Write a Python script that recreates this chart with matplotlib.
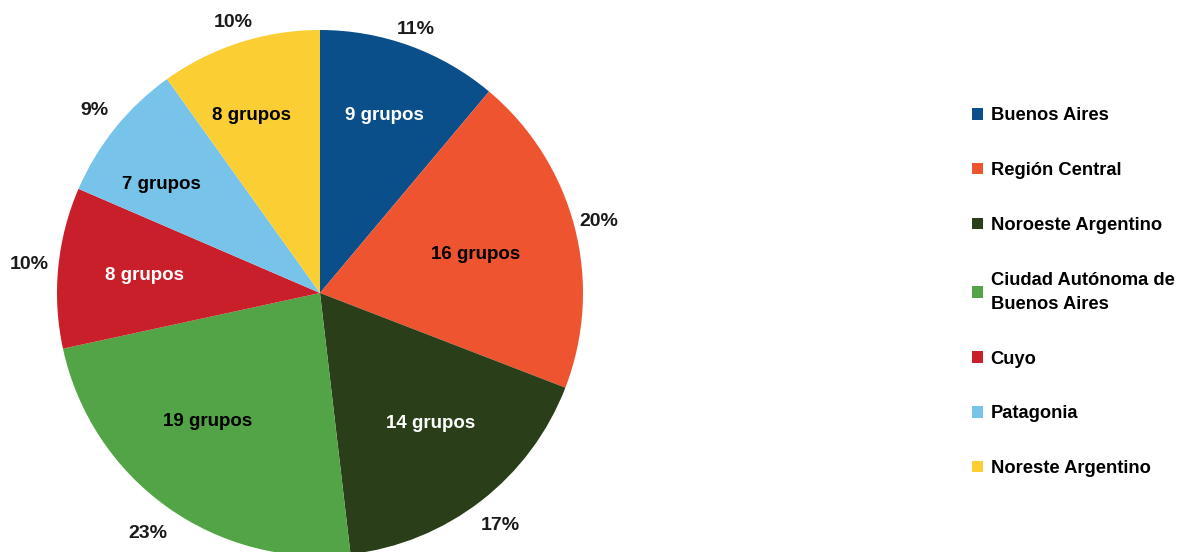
import matplotlib
matplotlib.use('Agg')
import matplotlib.pyplot as plt
from matplotlib.patches import Patch
import numpy as np

plt.rcParams['font.family'] = ['Liberation Sans', 'DejaVu Sans']
plt.rcParams['font.weight'] = 'bold'

regiones = ['Buenos Aires', 'Región Central', 'Noroeste Argentino',
            'Ciudad Autónoma de\nBuenos Aires', 'Cuyo', 'Patagonia',
            'Noreste Argentino']
grupos = [9, 16, 14, 19, 8, 7, 8]
colores = ['#0a4f8a', '#ee5430', '#293e19', '#53a446', '#c81f2a', '#78c3ea', '#fbcf33']
color_texto = ['white', 'black', 'white', 'black', 'white', 'black', 'black']

# label layout per slice: radius and angle shift (deg) for the inner text,
# radius for the outer percentage
r_dentro = [0.72, 0.61, 0.65, 0.65, 0.67, 0.73, 0.725]
giro_dentro = [0, -0.6, 2.7, -5.6, 0, 4.5, 3.4]
r_fuera = [1.068, 1.093, 1.118, 1.123, 1.11, 1.103, 1.08]

fig = plt.figure(figsize=(11.85, 5.52), dpi=100)
# pie axes: center at (320, 293) px, radius 263 px
r_px = 263
ax = fig.add_axes([(320 - r_px) / 1185, (552 - 293 - r_px) / 552,
                   2 * r_px / 1185, 2 * r_px / 552])

wedges, textos, pcts = ax.pie(
    grupos,
    labels=[f'{g} grupos' for g in grupos],
    colors=colores,
    startangle=90,
    counterclock=False,
    radius=1,
    autopct=lambda p: f'{p:.0f}%',
    wedgeprops=dict(linewidth=0),
    textprops=dict(fontsize=13.5, fontweight='bold'),
)
for i, w in enumerate(wedges):
    mid = (w.theta1 + w.theta2) / 2
    a = np.deg2rad(mid + giro_dentro[i])
    t = textos[i]
    t.set_position((r_dentro[i] * np.cos(a), r_dentro[i] * np.sin(a)))
    t.set_horizontalalignment('center')
    t.set_verticalalignment('center')
    t.set_color(color_texto[i])
    b = np.deg2rad(mid)
    p = pcts[i]
    p.set_position((r_fuera[i] * np.cos(b), r_fuera[i] * np.sin(b)))
    p.set_color('#1a1a1a')
    p.set_fontsize(14)

ax.set_xlim(-1, 1)
ax.set_ylim(-1, 1)
ax.axis('off')

handles = [Patch(facecolor=c, edgecolor='none') for c in colores]
leg = fig.legend(handles, regiones, loc='upper left',
                 bbox_to_anchor=(965 / 1185, 1 - 100 / 552),
                 frameon=False,
                 prop=dict(weight='bold', size=13.2),
                 handlelength=0.6, handleheight=0.6, handletextpad=0.4,
                 labelspacing=2.06, borderaxespad=0)
for t in leg.get_texts():
    t.set_linespacing(1.55)

fig.savefig('out.png', dpi=100)
